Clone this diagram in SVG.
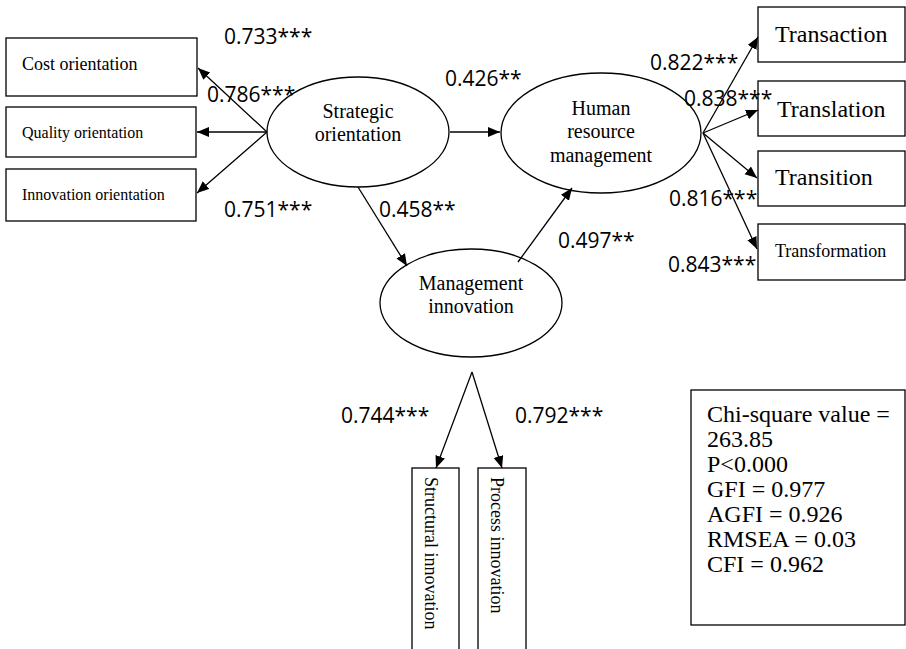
<svg xmlns="http://www.w3.org/2000/svg" width="906" height="649" viewBox="0 0 906 649">
<style>
.box{fill:#fff;stroke:#000;stroke-width:1.3}
.ell{fill:#fff;stroke:#000;stroke-width:1.3}
.ln{stroke:#000;stroke-width:1.3;fill:none;marker-end:url(#ah)}
.t{font-family:"Liberation Serif","Times New Roman",serif;fill:#000}
.lab{font-family:"Open Sans",sans-serif;font-size:21px;fill:#000}
</style>
<defs>
<marker id="ah" markerUnits="userSpaceOnUse" markerWidth="13" markerHeight="11" refX="12" refY="5" orient="auto">
<path d="M0,0 L12,5 L0,10 z" fill="#000"/>
</marker>
</defs>
<rect width="906" height="649" fill="#fff"/>

<g id="cost">
<rect class="box" x="6" y="38" width="191" height="58"/>
<text class="t" x="22" y="70" font-size="18">Cost orientation</text>
</g>
<g id="quality">
<rect class="box" x="6" y="107" width="190" height="50"/>
<text class="t" x="22" y="138" font-size="16">Quality orientation</text>
</g>
<g id="innovation">
<rect class="box" x="6" y="169" width="190" height="52"/>
<text class="t" x="22" y="200" font-size="16">Innovation orientation</text>
</g>

<g id="strategic">
<ellipse class="ell" cx="358" cy="132" rx="91" ry="55"/>
<text class="t" x="358" y="118" font-size="20" text-anchor="middle">Strategic</text>
<text class="t" x="358" y="141" font-size="20" text-anchor="middle">orientation</text>
</g>

<g id="hrm">
<ellipse class="ell" cx="601" cy="133" rx="100" ry="60"/>
<text class="t" x="601" y="115" font-size="20" text-anchor="middle">Human</text>
<text class="t" x="601" y="138" font-size="20" text-anchor="middle">resource</text>
<text class="t" x="601" y="162" font-size="20" text-anchor="middle">management</text>
</g>

<g id="mgmt">
<ellipse class="ell" cx="471" cy="303" rx="91" ry="54"/>
<text class="t" x="471" y="290" font-size="20" text-anchor="middle">Management</text>
<text class="t" x="471" y="313" font-size="20" text-anchor="middle">innovation</text>
</g>

<g id="transaction">
<rect class="box" x="758" y="7" width="147" height="55"/>
<text class="t" x="775" y="42" font-size="24">Transaction</text>
</g>
<g id="translation">
<rect class="box" x="758" y="81" width="147" height="55"/>
<text class="t" x="777" y="117" font-size="24">Translation</text>
</g>
<g id="transition">
<rect class="box" x="758" y="151" width="147" height="55"/>
<text class="t" x="775" y="185" font-size="24">Transition</text>
</g>
<g id="transformation">
<rect class="box" x="758" y="224" width="147" height="56"/>
<text class="t" x="775" y="257" font-size="18">Transformation</text>
</g>

<g id="structural">
<rect class="box" x="412" y="468" width="47" height="200"/>
<text class="t" font-size="18" transform="translate(425,477) rotate(90)">Structural innovation</text>
</g>
<g id="process">
<rect class="box" x="478" y="468" width="48" height="200"/>
<text class="t" font-size="18" transform="translate(491,477) rotate(90)">Process innovation</text>
</g>

<g id="fit">
<rect class="box" x="691" y="390" width="214" height="235"/>
<text class="t" font-size="24">
<tspan x="707" y="422">Chi-square value =</tspan>
<tspan x="707" y="447">263.85</tspan>
<tspan x="707" y="472">P&lt;0.000</tspan>
<tspan x="707" y="497">GFI = 0.977</tspan>
<tspan x="707" y="522">AGFI = 0.926</tspan>
<tspan x="707" y="547">RMSEA = 0.03</tspan>
<tspan x="707" y="572">CFI = 0.962</tspan>
</text>
</g>

<g id="connectors">
<line class="ln" x1="267" y1="132" x2="198" y2="68"/>
<line class="ln" x1="267" y1="132" x2="197" y2="132"/>
<line class="ln" x1="267" y1="132" x2="197" y2="193"/>
<line class="ln" x1="450" y1="132" x2="500" y2="132"/>
<line class="ln" x1="358" y1="187" x2="407" y2="266"/>
<line class="ln" x1="518" y1="262" x2="572" y2="188"/>
<line class="ln" x1="703" y1="133" x2="758" y2="37"/>
<line class="ln" x1="703" y1="133" x2="758" y2="110"/>
<line class="ln" x1="703" y1="133" x2="757" y2="178"/>
<line class="ln" x1="703" y1="133" x2="757" y2="249"/>
<line class="ln" x1="472" y1="372" x2="436" y2="468"/>
<line class="ln" x1="472" y1="372" x2="502" y2="468"/>
</g>

<g id="labels">
<text class="lab" x="224" y="44">0.733***</text>
<text class="lab" x="207" y="102">0.786***</text>
<text class="lab" x="224" y="217">0.751***</text>
<text class="lab" x="445" y="86">0.426**</text>
<text class="lab" x="379" y="217">0.458**</text>
<text class="lab" x="558" y="248">0.497**</text>
<text class="lab" x="650" y="70">0.822***</text>
<text class="lab" x="684" y="106">0.838***</text>
<text class="lab" x="669" y="206">0.816***</text>
<text class="lab" x="668" y="272">0.843***</text>
<text class="lab" x="341" y="423">0.744***</text>
<text class="lab" x="515" y="423">0.792***</text>
</g>
</svg>
